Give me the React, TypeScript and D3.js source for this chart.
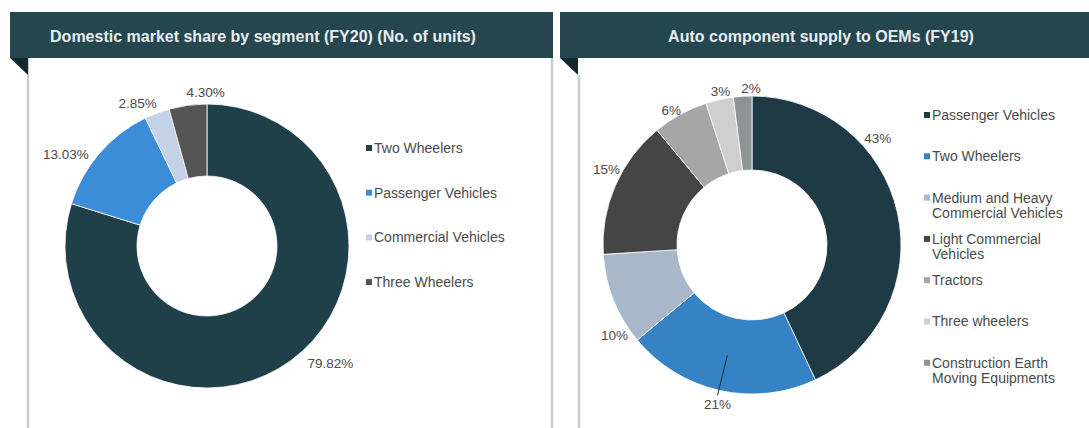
import React from "react";
import * as d3 from "d3";

// ---- Data ----
const leftTitle = "Domestic market share by segment (FY20) (No. of units)";
const leftCategories = ["Two Wheelers", "Passenger Vehicles", "Commercial Vehicles", "Three Wheelers"];
const leftValues = [79.82, 13.03, 2.85, 4.3];
const leftLabels = ["79.82%", "13.03%", "2.85%", "4.30%"];

const rightTitle = "Auto component supply to OEMs (FY19)";
const rightCategories = [
  "Passenger Vehicles",
  "Two Wheelers",
  "Medium and Heavy|Commercial Vehicles",
  "Light Commercial|Vehicles",
  "Tractors",
  "Three wheelers",
  "Construction Earth|Moving Equipments",
];
const rightValues = [43, 21, 10, 15, 6, 3, 2];
const rightLabels = ["43%", "21%", "10%", "15%", "6%", "3%", "2%"];

// ---- Styles ----
const leftColors = ["#1f3f49", "#3a8dd6", "#c3d2e6", "#555555"];
const rightColors = ["#1e3a44", "#3582c4", "#a9b7cb", "#454545", "#a6a6a6", "#cfcfcf", "#8c9494"];
const leftNudges: [number, number][] = [[11, -4], [-4, 7], [3, -1], [19, -4]];
const rightNudges: [number, number][] = [[-42, -72], [0, 5], [23, 32], [13, -13], [5, 4], [3, 0], [9, 1]];

const HEADER_FILL = "#25454f";
const FOLD_FILL = "#15272d";
const BORDER = "#c9cdcd";
const TEXT = "#4a4a4a";
const FONT = "'Liberation Sans', Arial, sans-serif";

type DonutProps = {
  cx: number;
  cy: number;
  outer: number;
  inner: number;
  values: number[];
  colors: string[];
  labels: string[];
  nudges: [number, number][];
  leaderIndex?: number;
};

function Donut({ cx, cy, outer, inner, values, colors, labels, nudges, leaderIndex }: DonutProps) {
  const pie = d3.pie<number>().sort(null).value((d) => d).startAngle(0).endAngle(2 * Math.PI);
  const arcs = pie(values);
  const arc = d3.arc<d3.PieArcDatum<number>>().innerRadius(inner).outerRadius(outer);
  const labelR = outer + 9;
  return (
    <g transform={`translate(${cx},${cy})`}>
      {arcs.map((a, i) => (
        <path key={i} d={arc(a) || ""} fill={colors[i]} stroke="#ffffff" strokeWidth={0.8} />
      ))}
      {arcs.map((a, i) => {
        const mid = (a.startAngle + a.endAngle) / 2;
        const s = Math.sin(mid);
        const c = -Math.cos(mid);
        const x = labelR * s + nudges[i][0];
        const y = labelR * c + nudges[i][1];
        const anchor = Math.abs(s) < 0.25 ? "middle" : s > 0 ? "start" : "end";
        const lr = (outer + inner) / 2 + 1;
        return (
          <g key={i}>
            {leaderIndex === i && (
              <line
                x1={lr * s}
                y1={lr * c}
                x2={x}
                y2={y - 9}
                stroke="#1a2f36"
                strokeWidth={1}
              />
            )}
            <text
              x={x}
              y={y}
              dy="0.35em"
              textAnchor={anchor}
              fontSize={13.5}
              fill={TEXT}
              fontFamily={FONT}
            >
              {labels[i]}
            </text>
          </g>
        );
      })}
    </g>
  );
}

type LegendProps = {
  x: number;
  y0: number;
  step: number;
  items: string[];
  colors: string[];
};

function Legend({ x, y0, step, items, colors }: LegendProps) {
  const y = d3.scaleLinear().domain([0, 1]).range([y0, y0 + step]);
  return (
    <g>
      {items.map((it, i) => {
        const lines = it.split("|");
        return (
          <g key={i}>
            <rect x={x} y={y(i) - 3} width={6} height={6} fill={colors[i]} />
            {lines.map((ln, j) => (
              <text
                key={j}
                x={x + 8}
                y={y(i) + j * 15.5}
                dy="0.35em"
                fontSize={14}
                fill={TEXT}
                fontFamily={FONT}
              >
                {ln}
              </text>
            ))}
          </g>
        );
      })}
    </g>
  );
}

function Header({ x0, x1, title, titleX }: { x0: number; x1: number; title: string; titleX: number }) {
  return (
    <g>
      <rect x={x0} y={12} width={x1 - x0} height={46} fill={HEADER_FILL} />
      <path d={`M${x0},58 L${x0 + 18},58 L${x0 + 18},75 Z`} fill={FOLD_FILL} />
      <text
        x={titleX}
        y={36}
        dy="0.35em"
        textAnchor="middle"
        fontSize={16}
        fontWeight="bold"
        fill="#e8eef0"
        fontFamily={FONT}
      >
        {title}
      </text>
    </g>
  );
}

export default function App() {
  const W = 1089;
  const H = 428;
  return (
    <svg
      width={W}
      height={H}
      style={{ position: "absolute", left: 0, top: 0, background: "#ffffff" }}
    >
      <rect x={0} y={0} width={W} height={H} fill="#ffffff" />
      {/* panel borders */}
      <line x1={28} y1={58} x2={28} y2={H} stroke={BORDER} strokeWidth={2.5} />
      <line x1={552} y1={58} x2={552} y2={H} stroke={BORDER} strokeWidth={2.5} />
      <line x1={579} y1={75} x2={579} y2={H} stroke={BORDER} strokeWidth={2.5} />

      <Header x0={10} x1={553} title={leftTitle} titleX={263} />
      <Header x0={560} x1={W} title={rightTitle} titleX={821} />

      <Donut
        cx={207}
        cy={246}
        outer={142}
        inner={70}
        values={leftValues}
        colors={leftColors}
        labels={leftLabels}
        nudges={leftNudges}
      />
      <Legend x={366} y0={148} step={44.7} items={leftCategories} colors={leftColors} />

      <Donut
        cx={752}
        cy={245}
        outer={149}
        inner={75}
        values={rightValues}
        colors={rightColors}
        labels={rightLabels}
        nudges={rightNudges}
        leaderIndex={1}
      />
      <Legend x={924} y0={115} step={41.3} items={rightCategories} colors={rightColors} />
    </svg>
  );
}
